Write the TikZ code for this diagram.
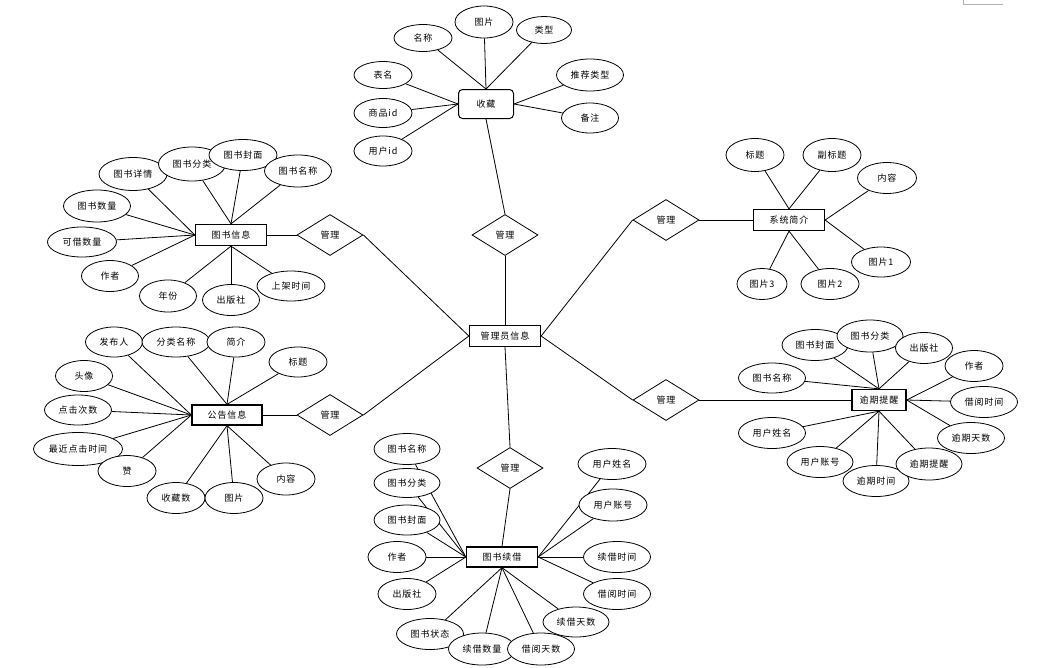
\documentclass[tikz,border=0pt]{standalone}
\usepackage{fontspec}
\usetikzlibrary{shapes.geometric,backgrounds}
\newfontfamily\cjk[LetterSpace=10]{Noto Sans CJK SC}
\begin{document}
\begin{tikzpicture}[x=1pt,y=-1pt,
  every node/.style={font=\cjk\fontsize{9}{10}\selectfont},
  attr/.style={ellipse,draw,fill=white,inner sep=0pt,minimum width=58pt,minimum height=31pt,line width=0.8pt},
  ent/.style={rectangle,draw,fill=white,line width=1.3pt,minimum width=71pt,minimum height=21pt,inner sep=0pt},
  rel/.style={diamond,draw,fill=white,line width=0.8pt,minimum width=66pt,minimum height=41pt,inner sep=0pt},
  ln/.style={line width=0.8pt}]
\useasboundingbox (0,0) rectangle (1056,667);
\draw[gray!60,line width=0.8pt] (963,0) -- (963,4) -- (1003,4);

% central entity and relationships
\node[ent] (gl) at (505,336) {管理员信息};
\node[rel] (d1) at (505,235) {管理};
\node[rel] (d2) at (330,235) {管理};
\node[rel] (d3) at (330,415) {管理};
\node[rel] (d4) at (510,468) {管理};
\node[rel] (d5) at (666,220) {管理};
\node[rel] (d6) at (666,400) {管理};

% 收藏
\node[draw,fill=white,rounded corners=4pt,line width=1pt,minimum width=55pt,minimum height=29pt,inner sep=0pt] (sc) at (486,104) {收藏};
\node[attr,minimum height=27pt] (sc1) at (423,38) {名称};
\node[attr,minimum height=32pt] (sc2) at (484,22) {图片};
\node[attr,minimum width=55pt,minimum height=27pt] (sc3) at (544,30) {类型};
\node[attr,minimum width=67pt,minimum height=32pt] (sc4) at (590,75) {推荐类型};
\node[attr,minimum width=57pt,minimum height=30pt] (sc5) at (590,118) {备注};
\node[attr,minimum height=27pt] (sc6) at (383,75) {表名};
\node[attr,minimum height=29pt] (sc7) at (383,113) {商品id};
\node[attr,minimum height=30pt] (sc8) at (383,151) {用户id};

% 图书信息
\node[ent] (ts) at (231,235) {图书信息};
\node[attr,minimum width=68pt,minimum height=33pt] (ts1) at (133,174) {图书详情};
\node[attr,minimum width=67pt,minimum height=34pt] (ts2) at (192,164) {图书分类};
\node[attr,minimum width=68pt,minimum height=31pt] (ts3) at (243,155) {图书封面};
\node[attr,minimum width=67pt,minimum height=32pt] (ts4) at (298,171) {图书名称};
\node[attr,minimum width=67pt,minimum height=32pt] (ts5) at (97,206) {图书数量};
\node[attr,minimum width=69pt,minimum height=30pt] (ts6) at (82,242) {可借数量};
\node[attr,minimum width=57pt] (ts7) at (110,276) {作者};
\node[attr,minimum width=57pt,minimum height=32pt] (ts8) at (168,296) {年份};
\node[attr,minimum width=57pt] (ts9) at (231,300) {出版社};
\node[attr,minimum width=68pt,minimum height=30pt] (ts10) at (291,286) {上架时间};

% 公告信息
\node[ent,minimum width=70pt,minimum height=20pt] (gg) at (227,415) {公告信息};
\node[attr,minimum width=57pt,minimum height=30pt] (gg1) at (114,342) {发布人};
\node[attr,minimum width=68pt,minimum height=30pt] (gg2) at (176,342) {分类名称};
\node[attr,minimum height=30pt] (gg3) at (236,342) {简介};
\node[attr,minimum height=30pt] (gg4) at (298,362) {标题};
\node[attr,minimum width=57pt] (gg5) at (84,376) {头像};
\node[attr,minimum width=67pt,minimum height=30pt] (gg6) at (78,410) {点击次数};
\node[attr,minimum width=89pt,minimum height=33pt] (gg7) at (78,449) {最近点击时间};
\node[attr] (gg8) at (127,471) {赞};
\node[attr] (gg9) at (176,498) {收藏数};
\node[attr] (gg10) at (234,498) {图片};
\node[attr,minimum height=32pt] (gg11) at (286,479) {内容};

% 图书续借
\node[ent,minimum height=20pt] (xj) at (502,557) {图书续借};
\node[attr,minimum width=66pt] (xj1) at (407,449) {图书名称};
\node[attr,minimum width=66pt,minimum height=29pt] (xj2) at (407,483) {图书分类};
\node[attr,minimum width=66pt,minimum height=30pt] (xj3) at (407,520) {图书封面};
\node[attr] (xj4) at (397,557) {作者};
\node[attr] (xj5) at (407,594) {出版社};
\node[attr,minimum width=66pt,minimum height=30pt] (xj9) at (576,622) {续借天数};
\node[attr,minimum width=67pt] (xj6) at (430,634) {图书状态};
\node[attr,minimum width=67pt,minimum height=32pt] (xj7) at (482,649) {续借数量};
\node[attr,minimum width=67pt,minimum height=32pt] (xj8) at (541,649) {借阅天数};
\node[attr,minimum width=67pt] (xj10) at (617,594) {借阅时间};
\node[attr,minimum width=67pt] (xj11) at (617,557) {续借时间};
\node[attr,minimum width=68pt,minimum height=32pt] (xj12) at (613,505) {用户账号};
\node[attr,minimum width=68pt] (xj13) at (612,464) {用户姓名};

% 系统简介
\node[ent] (xt) at (789,220) {系统简介};
\node[attr,minimum height=33pt] (xt1) at (755,155) {标题};
\node[attr,minimum height=33pt] (xt2) at (832,155) {副标题};
\node[attr,minimum width=59pt] (xt3) at (887,178) {内容};
\node[attr,minimum width=59pt,minimum height=30pt] (xt4) at (881,262) {图片1};
\node[attr,minimum width=50pt] (xt5) at (762,284) {图片3};
\node[attr] (xt6) at (830,284) {图片2};

% 逾期提醒
\node[ent,minimum width=54pt] (yq) at (879,400) {逾期提醒};
\node[attr,minimum width=67pt,minimum height=30pt] (yq11) at (772,378) {图书名称};
\node[attr,minimum width=66pt] (yq1) at (815,345) {图书封面};
\node[attr,minimum width=66pt,minimum height=32pt] (yq2) at (870,336) {图书分类};
\node[attr,minimum width=57pt] (yq3) at (924,348) {出版社};
\node[attr] (yq4) at (974,366) {作者};
\node[attr,minimum width=67pt] (yq5) at (984,402) {借阅时间};
\node[attr,minimum width=67pt] (yq10) at (772,433) {用户姓名};
\node[attr,minimum width=66pt] (yq9) at (820,462) {用户账号};
\node[attr,minimum width=66pt] (yq8) at (876,481) {逾期时间};
\node[attr,minimum width=66pt,minimum height=32pt] (yq7) at (929,464) {逾期提醒};
\node[attr,minimum width=67pt] (yq6) at (971,438) {逾期天数};

\begin{scope}[on background layer]
\foreach \a/\b in {sc.south/d1.north, d1.south/gl.north, d2.east/gl.west, d3.east/gl.west,
  d4.north/gl.south, d5.west/gl.east, d6.west/gl.east,
  ts.east/d2.west, gg.east/d3.west, d4.south/xj.north, d5.east/xt.west, d6.east/yq.west}
  \draw[ln] (\a) -- (\b);
\foreach \a/\b in {sc1/sc.north, sc2/sc.north, sc3/sc.north, sc4/sc.east, sc5/sc.east,
  sc6/sc.west, sc7/sc.west, sc8/sc.west,
  ts1/ts.west, ts2/ts.north, ts3/ts.north, ts4/ts.north, ts5/ts.west, ts6/ts.west, ts7/ts.west,
  ts8/ts.south, ts9/ts.south, ts10/ts.south,
  gg1/gg.west, gg2/gg.north, gg3/gg.north, gg4/gg.north, gg5/gg.west, gg6/gg.west, gg7/gg.west,
  gg8/gg.west, gg9/gg.south, gg10/gg.south, gg11/gg.south,
  xj1/xj.west, xj2/xj.west, xj3/xj.west, xj4/xj.west, xj5/xj.west, xj6/xj.south, xj7/xj.south,
  xj8/xj.south, xj9/xj.south, xj10/xj.east, xj11/xj.east, xj12/xj.east, xj13/xj.east,
  xt1/xt.north, xt2/xt.north, xt3/xt.east, xt4/xt.east, xt5/xt.south, xt6/xt.south,
  yq11/yq.north, yq1/yq.north, yq2/yq.north, yq3/yq.north, yq4/yq.east, yq5/yq.east, yq6/yq.east,
  yq7/yq.south, yq8/yq.south, yq9/yq.south, yq10/yq.south}
  \draw[ln] (\a) -- (\b);
\end{scope}
\end{tikzpicture}
\end{document}
